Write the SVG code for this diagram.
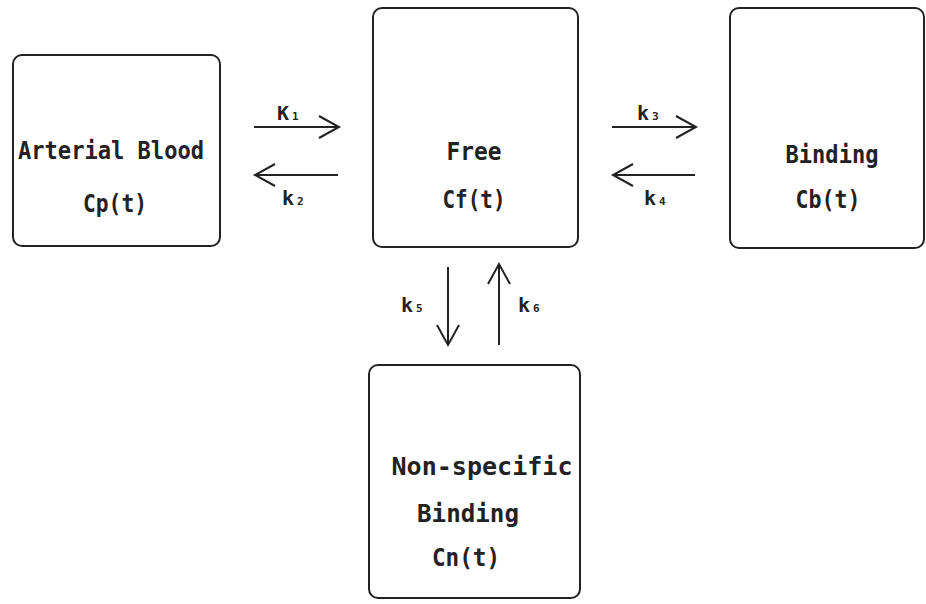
<svg xmlns="http://www.w3.org/2000/svg" width="926" height="604" viewBox="0 0 926 604">
<defs>
<marker id="ah" markerUnits="userSpaceOnUse" markerWidth="30" markerHeight="30" viewBox="-25 -15 30 30" refX="0" refY="0" orient="auto">
<path d="M-20,-11 L0,0 L-20,11" fill="none" stroke="#222" stroke-width="2"/>
</marker>
</defs>
<style>
.box{fill:#fff;stroke:#222;stroke-width:2}
.t{font-family:"DejaVu Sans Mono","Liberation Mono",monospace;font-weight:bold;font-size:24px;fill:#222;text-anchor:middle}
.k{font-family:"DejaVu Sans Mono","Liberation Mono",monospace;font-weight:bold;font-size:20px;fill:#222}
.s{font-size:11px}
.c{stroke:#222;stroke-width:2;fill:none;marker-end:url(#ah)}
</style>
<rect width="926" height="604" fill="#fff"/>
<g id="arterial">
<rect class="box" x="13" y="55" width="207" height="191" rx="9"/>
<text class="t" x="111" y="159" textLength="186" lengthAdjust="spacingAndGlyphs">Arterial Blood</text>
<text class="t" x="115" y="212" textLength="64" lengthAdjust="spacingAndGlyphs">Cp(t)</text>
</g>
<g id="free">
<rect class="box" x="373" y="8" width="205" height="239" rx="9"/>
<text class="t" x="474" y="160" textLength="55" lengthAdjust="spacingAndGlyphs">Free</text>
<text class="t" x="474" y="208" textLength="63" lengthAdjust="spacingAndGlyphs">Cf(t)</text>
</g>
<g id="binding">
<rect class="box" x="730" y="8" width="194" height="240" rx="9"/>
<text class="t" x="832" y="163" textLength="93" lengthAdjust="spacingAndGlyphs">Binding</text>
<text class="t" x="828" y="208" textLength="65" lengthAdjust="spacingAndGlyphs">Cb(t)</text>
</g>
<g id="nonspecific">
<rect class="box" x="369" y="365" width="211" height="233" rx="9"/>
<text class="t" x="482" y="475" textLength="181" lengthAdjust="spacingAndGlyphs">Non-specific</text>
<text class="t" x="468" y="522" textLength="102" lengthAdjust="spacingAndGlyphs">Binding</text>
<text class="t" x="466" y="566" textLength="68" lengthAdjust="spacingAndGlyphs">Cn(t)</text>
</g>
<g id="connectors">
<line class="c" x1="254" y1="127" x2="339" y2="127"/>
<line class="c" x1="338" y1="175" x2="255" y2="175"/>
<line class="c" x1="612" y1="127" x2="696" y2="127"/>
<line class="c" x1="695" y1="175" x2="613" y2="175"/>
<line class="c" x1="448" y1="267" x2="448" y2="345"/>
<line class="c" x1="499" y1="345" x2="499" y2="264"/>
<text class="k" x="277" y="120">K<tspan class="s" dx="3">1</tspan></text>
<text class="k" x="282" y="205">k<tspan class="s" dx="3">2</tspan></text>
<text class="k" x="637" y="120">k<tspan class="s" dx="3">3</tspan></text>
<text class="k" x="644" y="205">k<tspan class="s" dx="3">4</tspan></text>
<text class="k" x="401" y="312">k<tspan class="s" dx="3">5</tspan></text>
<text class="k" x="518" y="312">k<tspan class="s" dx="3">6</tspan></text>
</g>
</svg>
